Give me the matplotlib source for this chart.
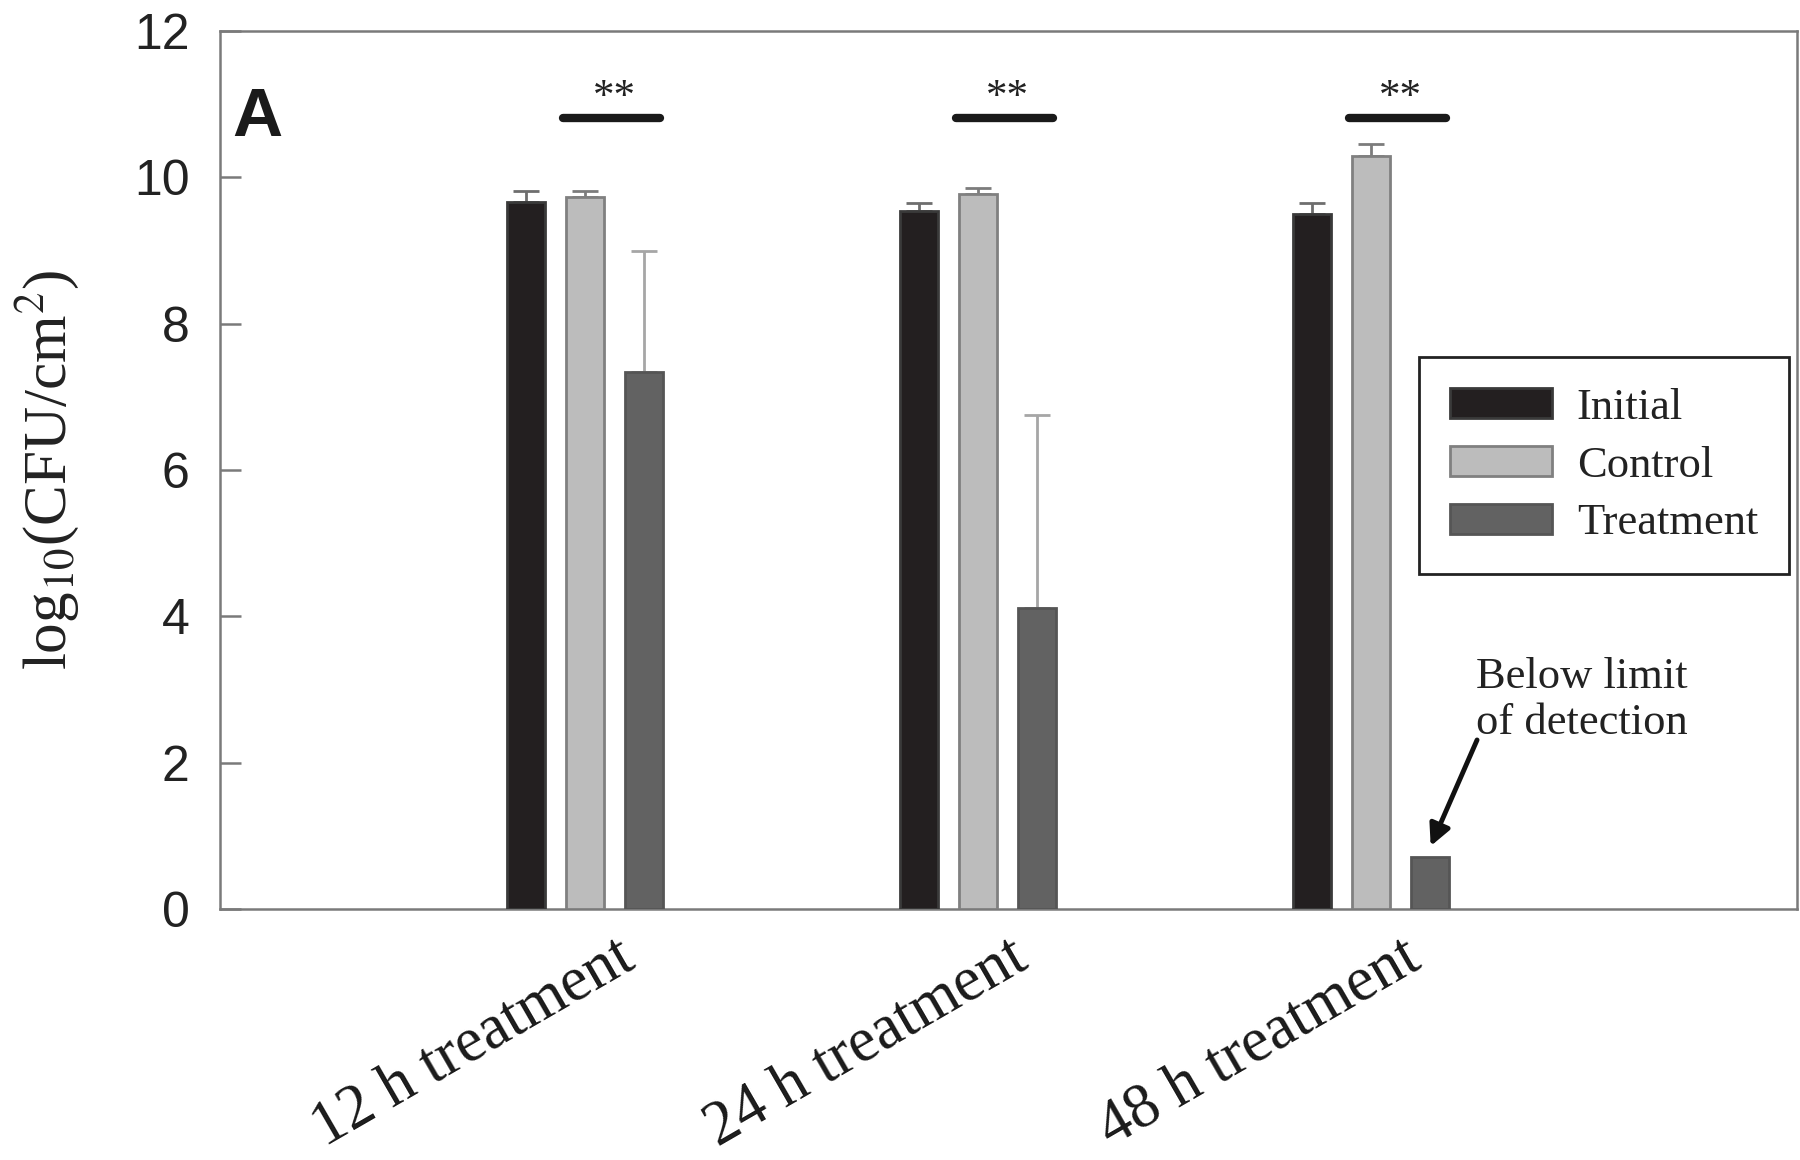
import numpy as np
import matplotlib.pyplot as plt
import matplotlib.transforms as mtransforms

plt.rcParams['mathtext.fontset'] = 'stix'

# data
groups = ['12 h treatment', '24 h treatment', '48 h treatment']
series = ['Initial', 'Control', 'Treatment']
initial = [9.66, 9.54, 9.50]
initial_err = [0.15, 0.11, 0.15]
control = [9.73, 9.77, 10.29]
control_err = [0.08, 0.08, 0.17]
treatment = [7.34, 4.11, 0.71]
treatment_err = [1.65, 2.64, 0.0]
sig_y = 10.81
sig_text = '**'

values = [initial, control, treatment]
errors = [initial_err, control_err, treatment_err]
fills = ['#231f20', '#bcbcbc', '#626262']
edges = ['#3a3a3a', '#808080', '#555555']
ecolors = ['#6e6e6e', '#7c7c7c', '#a6a6a6']

serif = 'Liberation Serif'
sans = 'Liberation Sans'

fig = plt.figure(figsize=(18, 11.6), dpi=100)
ax = fig.add_axes([0.1222, 0.2164, 0.8761, 0.7569])

x = np.arange(len(groups))
off = 0.15
w = 0.098

for i in range(3):
    xs = x + (i - 1) * off
    ax.bar(xs, values[i], width=w, color=fills[i], edgecolor=edges[i],
           linewidth=2, label=series[i], zorder=3)
    err = np.array(errors[i])
    m = err > 0
    ax.errorbar(xs[m], np.array(values[i])[m],
                yerr=[np.zeros(m.sum()), err[m]], fmt='none',
                ecolor=ecolors[i], elinewidth=2, capsize=9.5, capthick=2,
                zorder=2)

# significance bars
for g in x:
    ax.plot([g - 0.055, g + 0.19], [sig_y, sig_y], color='#1a1a1a',
            lw=6, solid_capstyle='round', zorder=4)
    ax.text(g + 0.075, sig_y + 0.14, sig_text, ha='center', va='baseline',
            fontsize=31, family=serif, color='#222222')

ax.set_xlim(-0.929, 3.084)
ax.set_ylim(0, 12)
ax.set_yticks([0, 2, 4, 6, 8, 10, 12])
ax.tick_params(axis='y', direction='in', length=15, width=1.8,
               color='#7a7a7a', pad=22, labelsize=36)
for lab in ax.get_yticklabels():
    lab.set_family(sans)
    lab.set_color('#222222')

ax.set_xticks(x)
ax.set_xticklabels(groups, rotation=30, ha='right', rotation_mode='anchor',
                   family=serif, fontsize=45, color='#1a1a1a')
ax.tick_params(axis='x', length=0, pad=14)
shift = mtransforms.ScaledTranslation(0.30, 0, fig.dpi_scale_trans)
for lab in ax.get_xticklabels():
    lab.set_transform(lab.get_transform() + shift)

for s in ax.spines.values():
    s.set_color('#7a7a7a')
    s.set_linewidth(1.8)

ax.set_ylabel(r'log$_{10}$(CFU/cm$^{2}$)', family=serif, fontsize=44,
              color='#222222')
ax.yaxis.set_label_coords(-0.088, 0.5)

ax.text(0.008, 0.937, 'A', transform=ax.transAxes, family=sans,
        fontweight='bold', fontsize=50, va='top', ha='left', color='#1a1a1a')

leg = ax.legend(loc='upper right', bbox_to_anchor=(0.995, 0.629),
                borderaxespad=0, prop={'family': serif, 'size': 32},
                handlelength=2.3, handleheight=0.65, handletextpad=0.55,
                labelspacing=0.4, borderpad=0.7, fancybox=False,
                framealpha=1)
leg.get_frame().set_edgecolor('#222222')
leg.get_frame().set_linewidth(2)
for t in leg.get_texts():
    t.set_color('#222222')

ax.text(2.537, 2.86, 'Below limit\nof detection', ha='center', va='center',
        family=serif, fontsize=32, color='#222222', linespacing=1.2)
ax.annotate('', xy=(2.152, 0.86), xytext=(2.27, 2.31),
            arrowprops=dict(arrowstyle='-|>', lw=3.5, color='#111111',
                            mutation_scale=32, shrinkA=0, shrinkB=0))

fig.savefig('out.png', dpi=100)
